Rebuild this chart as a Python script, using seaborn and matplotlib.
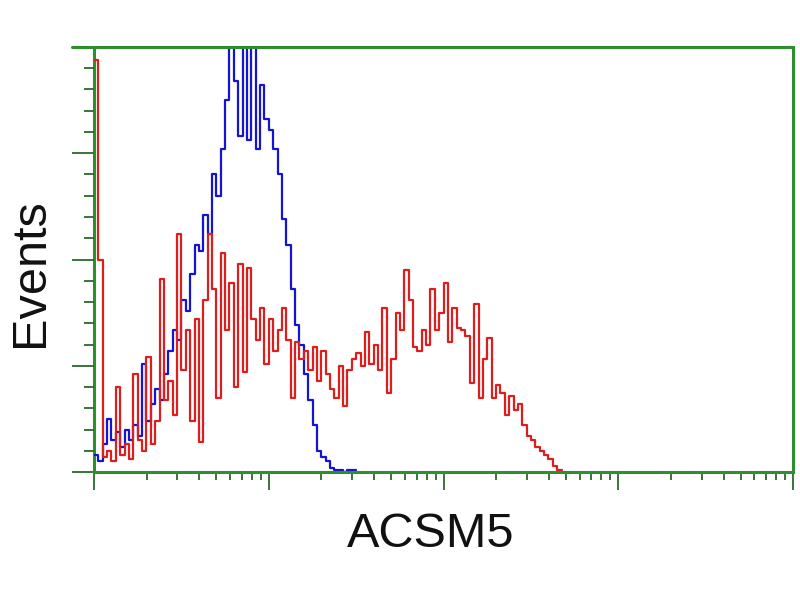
#--Import libraries--#
import numpy as np
import pandas as pd
import seaborn as sns
import matplotlib
matplotlib.use("Agg")
import matplotlib.pyplot as plt
from matplotlib.ticker import FixedLocator, MultipleLocator, NullFormatter
from matplotlib.lines import Line2D

#--Histogram data (events per channel, 40 channels per decade)--#
red_counts = [194, 100, 7, 10, 5, 40, 8, 13, 6, 46,
              15, 10, 54, 13, 24, 91, 34, 43, 27, 112,
              48, 67, 24, 72, 14, 81, 112, 86, 35, 103,
              67, 89, 40, 98, 47, 96, 72, 62, 77, 51,
              72, 57, 67, 77, 62, 35, 61, 53, 57, 48,
              59, 43, 57, 46, 39, 35, 50, 31, 48, 53,
              56, 50, 66, 51, 60, 48, 77, 37, 53, 75,
              67, 95, 81, 59, 57, 67, 60, 86, 67, 75,
              89, 61, 77, 68, 67, 64, 42, 79, 35, 53,
              63, 35, 41, 37, 27, 36, 29, 32, 22, 17,
              15, 12, 10, 8, 6, 3, 1]
blue_counts = [8, 5, 13, 25, 15, 19, 12, 20, 15, 22,
               17, 51, 24, 32, 39, 34, 46, 57, 67, 62,
               81, 76, 93, 107, 104, 121, 112, 140, 130, 152,
               175, 210, 184, 158, 210, 156, 210, 152, 182, 166,
               161, 152, 140, 119, 107, 86, 69, 60, 46, 34,
               22, 10, 7, 5, 2, 1, 1, 0, 1, 1]
channels_per_decade = 40
n_decades = 4
y_max = 200

#--Build channel table (x in decades of fluorescence)--#
def channel_frame(counts, name):
    ch = np.arange(len(counts))
    return pd.DataFrame({"decade": (ch + 0.5) / channels_per_decade,
                         "events": counts, "sample": name})

red_df = channel_frame(red_counts, "ACSM5")
blue_df = channel_frame(blue_counts, "control")

#--Figure--#
sns.set_style("white")
plt.rcParams["font.family"] = ["Liberation Sans", "DejaVu Sans"]
fig = plt.figure(figsize=(8, 6), dpi=100)
ax = fig.add_axes([0.1175, 0.2133, 0.874, 0.7084])

for df, col in [(blue_df, "#1414d2"), (red_df, "#dc1e1e")]:
    sns.histplot(data=df, x="decade", weights="events",
                 binwidth=1 / channels_per_decade,
                 binrange=(0, len(df) / channels_per_decade),
                 element="step", fill=False, linewidth=1.6, color=col, ax=ax)

ax.set_xlim(0, n_decades)
ax.set_ylim(0, y_max)

#--Log-style tick marks (lengths in points)--#
green = "#2f8f2f"
tick_green = "#2a6a2a"
major_x = np.arange(n_decades + 1)
minor_x = [d + np.log10(m) for d in range(n_decades) for m in range(2, 10)]
ax.xaxis.set_major_locator(FixedLocator(major_x))
ax.xaxis.set_minor_locator(FixedLocator(minor_x))
ax.yaxis.set_major_locator(MultipleLocator(50))
ax.yaxis.set_minor_locator(MultipleLocator(10))
for axis in (ax.xaxis, ax.yaxis):
    axis.set_major_formatter(NullFormatter())
    axis.set_minor_formatter(NullFormatter())
ax.tick_params(axis="x", which="both", bottom=True, top=False, direction="out", width=1.3, color=tick_green)
ax.tick_params(axis="y", which="both", left=True, right=False, direction="out", width=1.3, color=tick_green)
ax.tick_params(axis="x", which="major", length=13)
ax.tick_params(axis="x", which="minor", length=6)
ax.tick_params(axis="y", which="major", length=16)
ax.tick_params(axis="y", which="minor", length=7)

for spine in ax.spines.values():
    spine.set_visible(True)
    spine.set_color(green)
    spine.set_linewidth(2.2)
ax.spines["left"].set_zorder(0)
# top border runs a little past the left edge
ax.add_line(Line2D([-0.032, 0], [1, 1], transform=ax.transAxes, color=green,
                   linewidth=2.2, clip_on=False))

ax.set_xlabel("ACSM5", fontsize=35, color="#111111")
ax.set_ylabel("Events", fontsize=35, color="#111111")
ax.xaxis.set_label_coords(0.481, -0.094)
ax.yaxis.set_label_coords(-0.0587, 0.468)

fig.savefig("out.png", dpi=100)
